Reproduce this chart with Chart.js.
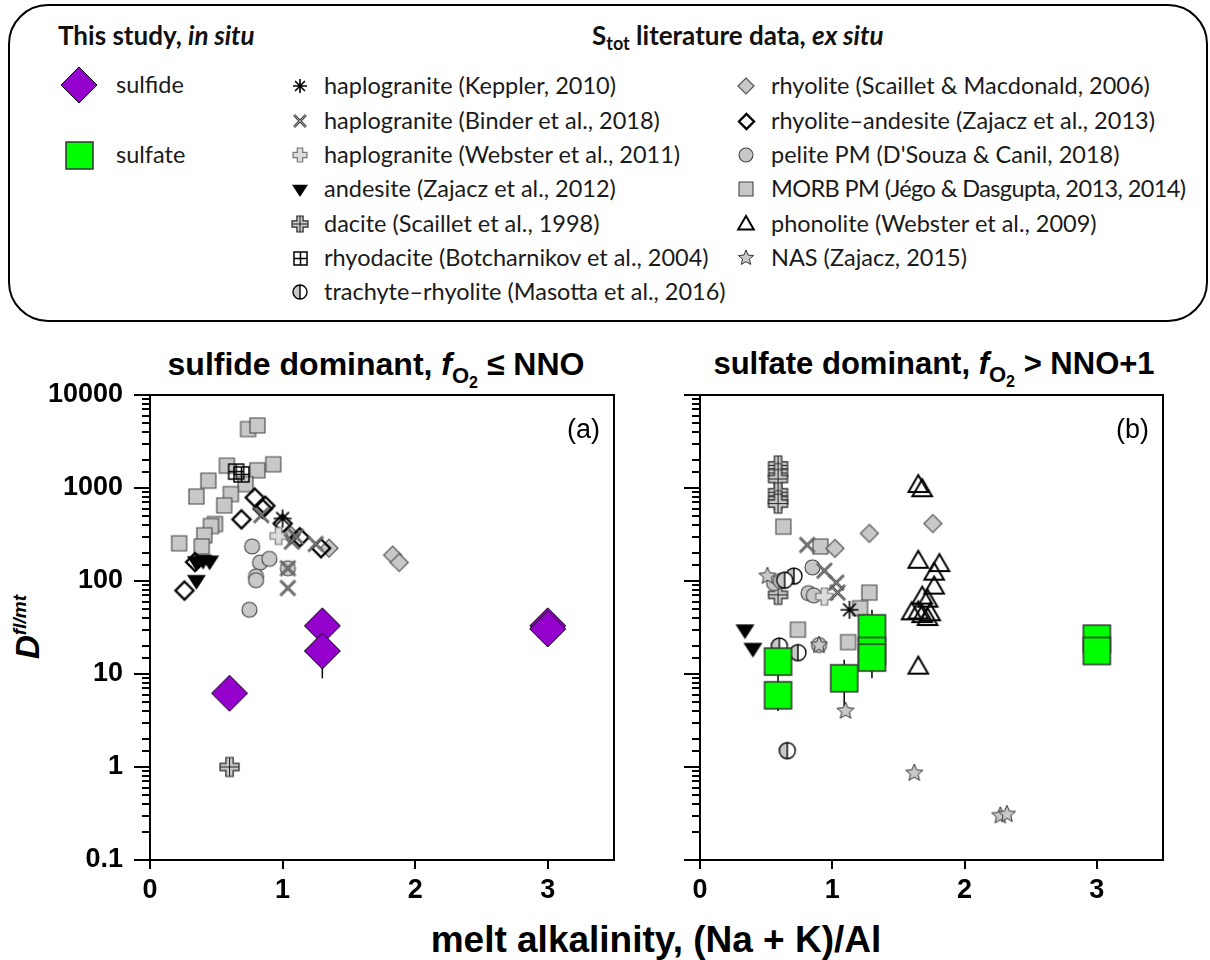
<!DOCTYPE html>
<html>
<head>
<meta charset="utf-8">
<script src="https://cdn.jsdelivr.net/npm/chart.js@4.4.1/dist/chart.umd.min.js"></script>
<style>
body{margin:0;width:1210px;height:960px;background:#fff;position:relative;overflow:hidden;font-family:"Liberation Sans",Arial,sans-serif}
#box{position:absolute;left:8px;top:4px;width:1196px;height:314px;border:2px solid #000;border-radius:40px}
.ttl{position:absolute;font-family:Lato,"Noto Sans",sans-serif;font-weight:bold;font-size:26px;white-space:nowrap;color:#111;line-height:30px}
.ttl sub{font-size:18px;vertical-align:-5px}
.it{position:absolute;font-family:Lato,"Noto Sans",sans-serif;font-size:23.5px;white-space:nowrap;line-height:28px;color:#1a1a1a}
.ic{position:absolute}
canvas.ch{position:absolute}
.ptitle{position:absolute;font-weight:bold;font-size:32px;white-space:nowrap;transform:translateX(-50%);line-height:38px}
.ptitle sub{font-size:22px;vertical-align:-8px}
.ptitle sub sub{font-size:16px;vertical-align:-5px}
#ytitle{position:absolute;left:28px;top:627px;transform:translate(-50%,-50%) rotate(-90deg);font-weight:bold;font-style:italic;font-size:33px;white-space:nowrap}
#ytitle sup{font-size:19px;vertical-align:13px}
#xtitle{position:absolute;left:656px;top:918px;transform:translateX(-50%);font-weight:bold;font-size:37px;white-space:nowrap;line-height:44px}
</style>
</head>
<body>
<div id="box"></div>
<div class="ttl" style="left:58px;top:20px">This study, <i>in situ</i></div>
<div class="ttl" style="left:592px;top:20px">S<sub>tot</sub> literature data, <i>ex situ</i></div>
<div id="legendItems"></div>

<div class="ptitle" style="left:376px;top:345px">sulfide dominant, <i>f</i><sub>O<sub>2</sub></sub> ≤ NNO</div>
<div class="ptitle" style="left:934px;top:345px;font-size:31px">sulfate dominant, <i>f</i><sub>O<sub>2</sub></sub> &gt; NNO+1</div>
<div id="ytitle">D<sup>fl/mt</sup></div>
<div id="xtitle">melt alkalinity, (Na + K)/Al</div>

<canvas id="graficaA" class="ch" width="630" height="520" style="left:0;top:380px;width:630px;height:520px"></canvas>
<canvas id="graficaB" class="ch" width="580" height="520" style="left:630px;top:380px;width:580px;height:520px"></canvas>

<script>
// ---- panel (a): sulfide dominant ----
const aSulfideX = [0.6, 1.3, 1.3, 3.0, 3.0];
const aSulfideY = [6.2, 33, 17.7, 33, 30.5];
const aSulfideLow = [null, null, 9.0, null, 28];
const aAsteriskX = [1.0];
const aAsteriskY = [470];
const aBinderX = [0.84, 1.07, 1.1, 1.25, 1.04, 1.04];
const aBinderY = [510, 265, 300, 250, 137, 84];
const aWebsterX = [0.97];
const aWebsterY = [305];
const aAndesiteX = [0.35, 0.4, 0.45, 0.35];
const aAndesiteY = [162, 168, 165, 102];
const aDaciteX = [0.6];
const aDaciteY = [1.0];
const aRhyodaciteX = [0.65, 0.69];
const aRhyodaciteY = [1500, 1400];
const aRhyoliteX = [1.35, 1.06, 1.83, 1.88];
const aRhyoliteY = [225, 312, 190, 158];
const aRhyAndX = [0.79, 0.87, 0.85, 0.69, 1.0, 1.13, 1.29, 0.26, 0.34];
const aRhyAndY = [790, 645, 600, 460, 415, 295, 225, 79, 160];
const aPeliteX = [0.77, 0.83, 0.9, 0.8, 0.8, 1.04, 0.75];
const aPeliteY = [235, 158, 173, 112, 102, 137, 49];
const aMorbX = [0.74, 0.81, 0.44, 0.35, 0.58, 0.81, 0.93, 0.72, 0.61, 0.56, 0.49, 0.46, 0.41, 0.39, 0.22];
const aMorbY = [4300, 4700, 1200, 810, 1740, 1550, 1800, 1100, 860, 650, 410, 390, 310, 235, 254];

// ---- panel (b): sulfate dominant ----
const bSulfateX = [0.59, 0.59, 1.09, 1.3, 1.3, 1.3, 3.0, 3.0];
const bSulfateY = [13.6, 5.9, 9.0, 31, 17.7, 15, 24, 17.7];
const bSulfateLow = [8.0, 4.0, 4.5, null, null, 9.0, null, null];
const bSulfateHigh = [null, null, 14.2, 49, null, null, null, null];
const bAsteriskX = [1.13];
const bAsteriskY = [49];
const bBinderX = [0.81, 0.94, 1.03, 1.04];
const bBinderY = [244, 129, 96, 75];
const bWebsterX = [0.94];
const bWebsterY = [68];
const bAndesiteX = [0.34, 0.4];
const bAndesiteY = [30, 19];
const bDaciteX = [0.59, 0.59, 0.59, 0.59, 0.59, 0.59, 0.59, 0.59];
const bDaciteY = [1750, 1450, 1250, 900, 740, 680, 71, 6.0];
const bTrachyteX = [0.71, 0.64, 0.6, 0.74, 0.66];
const bTrachyteY = [113, 102, 20, 17, 1.5];
const bRhyoliteX = [1.02, 1.28, 1.76];
const bRhyoliteY = [224, 325, 415];
const bPeliteX = [0.85, 0.82, 0.86, 0.56, 0.61, 0.9];
const bPeliteY = [140, 74, 70, 95, 100, 20.5];
const bMorbX = [0.63, 0.91, 1.28, 1.21, 0.74, 1.12];
const bMorbY = [384, 235, 75, 51, 30, 22];
const bPhonoliteX = [1.65, 1.68, 1.65, 1.81, 1.77, 1.77, 1.68, 1.72, 1.6, 1.65, 1.68, 1.74, 1.72, 1.65];
const bPhonoliteY = [1077, 970, 165, 152, 123, 87, 68, 63, 46, 47, 43, 45, 40, 12];
const bNasX = [0.51, 0.9, 1.1, 1.62, 2.27, 2.32];
const bNasY = [113, 20.4, 4.0, 0.86, 0.30, 0.31];

// axes
const xTicks = [0, 1, 2, 3];
const yMin = 0.1, yMax = 10000;

const GRIS = '#c8c8c8';
const MORADO = '#9400cc';
const VERDE = '#00ff00';

// dibuja un marcador en (x,y) de radio r
function dibujarMarca(g, tipo, x, y, r) {
    g.save();
    g.lineJoin = 'miter';
    g.beginPath();
    switch (tipo) {
        case 'sulfide':
            g.moveTo(x, y - r); g.lineTo(x + r, y); g.lineTo(x, y + r); g.lineTo(x - r, y); g.closePath();
            g.fillStyle = MORADO; g.fill(); g.strokeStyle = '#000'; g.lineWidth = 1; g.stroke();
            break;
        case 'sulfate':
            g.rect(x - r, y - r, 2 * r, 2 * r);
            g.fillStyle = VERDE; g.fill(); g.strokeStyle = '#333'; g.lineWidth = 1.5; g.stroke();
            break;
        case 'asterisk':
            for (let k = 0; k < 4; k++) {
                const a = k * Math.PI / 4;
                g.moveTo(x - r * Math.cos(a), y - r * Math.sin(a));
                g.lineTo(x + r * Math.cos(a), y + r * Math.sin(a));
            }
            g.strokeStyle = '#000'; g.lineWidth = 1.6; g.stroke();
            break;
        case 'x':
            g.moveTo(x - r, y - r); g.lineTo(x + r, y + r);
            g.moveTo(x + r, y - r); g.lineTo(x - r, y + r);
            g.strokeStyle = '#444'; g.lineWidth = 2.6; g.stroke();
            g.beginPath();
            g.moveTo(x - r, y - r); g.lineTo(x + r, y + r);
            g.moveTo(x + r, y - r); g.lineTo(x - r, y + r);
            g.strokeStyle = '#bbb'; g.lineWidth = 0.8; g.stroke();
            break;
        case 'plusLight':
        case 'dacite': {
            const w = r / 2.6;
            g.moveTo(x - w, y - r); g.lineTo(x + w, y - r); g.lineTo(x + w, y - w); g.lineTo(x + r, y - w);
            g.lineTo(x + r, y + w); g.lineTo(x + w, y + w); g.lineTo(x + w, y + r); g.lineTo(x - w, y + r);
            g.lineTo(x - w, y + w); g.lineTo(x - r, y + w); g.lineTo(x - r, y - w); g.lineTo(x - w, y - w);
            g.closePath();
            if (tipo === 'dacite') {
                g.fillStyle = GRIS; g.fill(); g.strokeStyle = '#222'; g.lineWidth = 1.2; g.stroke();
                g.beginPath();
                g.moveTo(x, y - r); g.lineTo(x, y + r); g.moveTo(x - r, y); g.lineTo(x + r, y);
                g.lineWidth = 1; g.stroke();
            } else {
                g.fillStyle = '#dcdcdc'; g.fill(); g.strokeStyle = '#777'; g.lineWidth = 1.2; g.stroke();
            }
            break;
        }
        case 'downTri': {
            const h = r * 0.9;
            g.moveTo(x - r, y - h * 0.6); g.lineTo(x + r, y - h * 0.6); g.lineTo(x, y + h * 1.1); g.closePath();
            g.fillStyle = '#000'; g.fill();
            break;
        }
        case 'rhyodacite':
            g.rect(x - r, y - r, 2 * r, 2 * r);
            g.moveTo(x, y - r); g.lineTo(x, y + r); g.moveTo(x - r, y); g.lineTo(x + r, y);
            g.strokeStyle = '#000'; g.lineWidth = 1.5; g.stroke();
            break;
        case 'half':
            g.arc(x, y, r, Math.PI / 2, Math.PI * 1.5);
            g.closePath(); g.fillStyle = GRIS; g.fill();
            g.beginPath(); g.arc(x, y, r, -Math.PI / 2, Math.PI / 2); g.closePath(); g.fillStyle = '#fff'; g.fill();
            g.beginPath(); g.arc(x, y, r, 0, Math.PI * 2);
            g.moveTo(x, y - r); g.lineTo(x, y + r);
            g.strokeStyle = '#000'; g.lineWidth = 1.4; g.stroke();
            break;
        case 'grayDiamond':
            g.moveTo(x, y - r); g.lineTo(x + r, y); g.lineTo(x, y + r); g.lineTo(x - r, y); g.closePath();
            g.fillStyle = GRIS; g.fill(); g.strokeStyle = '#555'; g.lineWidth = 1.2; g.stroke();
            break;
        case 'openDiamond':
            g.moveTo(x, y - r); g.lineTo(x + r, y); g.lineTo(x, y + r); g.lineTo(x - r, y); g.closePath();
            g.strokeStyle = '#000'; g.lineWidth = 2.4; g.stroke();
            break;
        case 'circle':
            g.arc(x, y, r, 0, Math.PI * 2);
            g.fillStyle = GRIS; g.fill(); g.strokeStyle = '#444'; g.lineWidth = 1.1; g.stroke();
            break;
        case 'square':
            g.rect(x - r, y - r, 2 * r, 2 * r);
            g.fillStyle = GRIS; g.fill(); g.strokeStyle = '#444'; g.lineWidth = 1.1; g.stroke();
            break;
        case 'openTri': {
            g.moveTo(x, y - r); g.lineTo(x + r * 0.98, y + r * 0.7); g.lineTo(x - r * 0.98, y + r * 0.7); g.closePath();
            g.strokeStyle = '#000'; g.lineWidth = 2; g.stroke();
            break;
        }
        case 'star5':
            for (let k = 0; k < 10; k++) {
                const rr = k % 2 === 0 ? r : r * 0.45;
                const a = -Math.PI / 2 + k * Math.PI / 5;
                if (k === 0) g.moveTo(x + rr * Math.cos(a), y + rr * Math.sin(a));
                else g.lineTo(x + rr * Math.cos(a), y + rr * Math.sin(a));
            }
            g.closePath();
            g.fillStyle = GRIS; g.fill(); g.strokeStyle = '#333'; g.lineWidth = 1; g.stroke();
            break;
    }
    g.restore();
}

function imagenMarca(tipo, r) {
    const n = Math.ceil(2 * r + 6);
    const c = document.createElement('canvas');
    c.width = n; c.height = n;
    dibujarMarca(c.getContext('2d'), tipo, n / 2, n / 2, r);
    return c;
}

// tamaños de marca en la gráfica
const tam = {
    sulfide: 18, sulfate: 13.5, asterisk: 9, x: 7.5, plusLight: 8.5, downTri: 9.5, dacite: 9.5,
    rhyodacite: 7.5, half: 8, grayDiamond: 9, openDiamond: 9, circle: 7.5, square: 7.5, openTri: 10, star5: 9
};

function serie(tipo, xs, ys, extra) {
    return Object.assign({
        data: xs.map((x, i) => ({ x: x, y: ys[i] })),
        pointStyle: imagenMarca(tipo, tam[tipo]),
        showLine: false
    }, extra || {});
}

function esDecada(v) {
    const l = Math.log10(v);
    return Math.abs(l - Math.round(l)) < 1e-6;
}

const marcoPlugin = {
    id: 'marco',
    beforeDatasetsDraw(chart) {
        const ctx = chart.ctx, ys = chart.scales.y;
        ctx.save();
        ctx.strokeStyle = '#000';
        ctx.lineWidth = 1.5;
        chart.data.datasets.forEach((ds, i) => {
            if (!ds.errLow && !ds.errHigh) return;
            const meta = chart.getDatasetMeta(i);
            meta.data.forEach((pt, j) => {
                [ds.errLow && ds.errLow[j], ds.errHigh && ds.errHigh[j]].forEach(v => {
                    if (v == null) return;
                    ctx.beginPath();
                    ctx.moveTo(pt.x, pt.y);
                    ctx.lineTo(pt.x, ys.getPixelForValue(v));
                    ctx.stroke();
                });
            });
        });
        ctx.restore();
    },
    afterDraw(chart, args, opts) {
        const ctx = chart.ctx, a = chart.chartArea, ys = chart.scales.y, xs = chart.scales.x;
        ctx.save();
        ctx.strokeStyle = '#000';
        ctx.lineWidth = 2;
        ctx.strokeRect(a.left, a.top, a.right - a.left, a.bottom - a.top);
        ctx.beginPath();
        ys.ticks.forEach(t => {
            const p = Math.round(ys.getPixelForValue(t.value));
            const L = esDecada(t.value) ? 16 : 8;
            ctx.moveTo(a.left - L, p);
            ctx.lineTo(a.left, p);
        });
        xTicks.forEach(v => {
            const p = Math.round(xs.getPixelForValue(v));
            ctx.moveTo(p, a.bottom);
            ctx.lineTo(p, a.bottom + 9);
        });
        ctx.stroke();
        ctx.fillStyle = '#000';
        ctx.font = '27px "Liberation Sans", Arial, sans-serif';
        ctx.textAlign = 'right';
        ctx.textBaseline = 'middle';
        ctx.fillText(opts.tag, a.right - 14, a.top + 36);
        ctx.restore();
    }
};

function opciones(tag, yWidth, padRight, showY) {
    const fuente = { family: '"Liberation Sans", Arial, sans-serif', size: 27, weight: 'bold' };
    return {
        responsive: false,
        animation: false,
        devicePixelRatio: 1,
        events: [],
        layout: { padding: { top: 15, right: padRight, left: 0, bottom: 0 } },
        plugins: { legend: { display: false }, tooltip: { enabled: false }, marco: { tag: tag } },
        scales: {
            x: {
                type: 'linear', min: 0, max: 3.5,
                grid: { display: false, drawTicks: false }, border: { display: false },
                ticks: {
                    stepSize: 1, autoSkip: false, includeBounds: false, padding: 14, color: '#000', font: fuente,
                    callback: v => (xTicks.includes(v) ? String(v) : '')
                },
                afterFit: s => { s.height = 40; s.paddingLeft = 0; s.paddingRight = 0; }
            },
            y: {
                type: 'logarithmic', min: yMin, max: yMax,
                grid: { display: false, drawTicks: false }, border: { display: false },
                ticks: {
                    autoSkip: false, padding: 27, color: '#000', font: fuente,
                    callback: v => (showY && esDecada(v) ? String(Number(v)) : '')
                },
                afterFit: s => { s.width = yWidth; s.paddingTop = 0; s.paddingBottom = 0; }
            }
        }
    };
}

const datosA = {
    datasets: [
        serie('sulfide', aSulfideX, aSulfideY, { errLow: aSulfideLow }),
        serie('dacite', aDaciteX, aDaciteY),
        serie('asterisk', aAsteriskX, aAsteriskY),
        serie('x', aBinderX, aBinderY),
        serie('plusLight', aWebsterX, aWebsterY),
        serie('openDiamond', aRhyAndX, aRhyAndY),
        serie('grayDiamond', aRhyoliteX, aRhyoliteY),
        serie('downTri', aAndesiteX, aAndesiteY),
        serie('rhyodacite', aRhyodaciteX, aRhyodaciteY),
        serie('circle', aPeliteX, aPeliteY),
        serie('square', aMorbX, aMorbY)
    ]
};

const datosB = {
    datasets: [
        serie('sulfate', bSulfateX, bSulfateY, { errLow: bSulfateLow, errHigh: bSulfateHigh }),
        serie('dacite', bDaciteX.slice(7), bDaciteY.slice(7)),
        serie('star5', bNasX, bNasY),
        serie('asterisk', bAsteriskX, bAsteriskY),
        serie('x', bBinderX, bBinderY),
        serie('plusLight', bWebsterX, bWebsterY),
        serie('half', bTrachyteX, bTrachyteY),
        serie('openTri', bPhonoliteX, bPhonoliteY),
        serie('grayDiamond', bRhyoliteX, bRhyoliteY),
        serie('downTri', bAndesiteX, bAndesiteY),
        serie('circle', bPeliteX, bPeliteY),
        serie('square', bMorbX, bMorbY),
        serie('dacite', bDaciteX.slice(0, 7), bDaciteY.slice(0, 7))
    ]
};

let graficaA = new Chart(document.getElementById('graficaA').getContext('2d'), {
    type: 'scatter', data: datosA, options: opciones('(a)', 150, 16, true), plugins: [marcoPlugin]
});
let graficaB = new Chart(document.getElementById('graficaB').getContext('2d'), {
    type: 'scatter', data: datosB, options: opciones('(b)', 70, 47, false), plugins: [marcoPlugin]
});

// ---- leyenda ----
const leyenda = [
    ['sulfide', 18, 79, 85, 116, 'sulfide'],
    ['sulfate', 13.5, 79, 155, 116, 'sulfate'],
    ['asterisk', 7, 300, 86, 324, 'haplogranite (Keppler, 2010)'],
    ['x', 6, 300, 121, 324, 'haplogranite (Binder et al., 2018)'],
    ['plusLight', 7, 300, 155, 324, 'haplogranite (Webster et al., 2011)'],
    ['downTri', 8, 300, 189, 324, 'andesite (Zajacz et al., 2012)'],
    ['dacite', 8, 300, 224, 324, 'dacite (Scaillet et al., 1998)'],
    ['rhyodacite', 6.5, 300, 258, 324, 'rhyodacite (Botcharnikov et al., 2004)'],
    ['half', 7, 300, 292, 324, 'trachyte\u2013rhyolite (Masotta et al., 2016)'],
    ['grayDiamond', 8, 746, 86, 771, 'rhyolite (Scaillet & Macdonald, 2006)'],
    ['openDiamond', 7.5, 746, 121, 771, 'rhyolite\u2013andesite (Zajacz et al., 2013)'],
    ['circle', 7, 746, 155, 771, 'pelite PM (D\'Souza & Canil, 2018)'],
    ['square', 7, 746, 189, 771, 'MORB PM (J\u00e9go & Dasgupta, 2013, 2014)'],
    ['openTri', 8, 746, 224, 771, 'phonolite (Webster et al., 2009)'],
    ['star5', 8, 746, 258, 771, 'NAS (Zajacz, 2015)']
];

const cont = document.getElementById('legendItems');
for (const [tipo, r, ix, iy, tx, texto] of leyenda) {
    const c = imagenMarca(tipo, r);
    c.className = 'ic';
    c.style.left = (ix - c.width / 2) + 'px';
    c.style.top = (iy - c.height / 2) + 'px';
    cont.appendChild(c);
    const d = document.createElement('div');
    d.className = 'it';
    d.style.left = tx + 'px';
    d.style.top = (iy - 15) + 'px';
    if (texto.startsWith('MORB')) d.style.letterSpacing = '-0.6px';
    d.textContent = texto;
    cont.appendChild(d);
}
</script>
</body>
</html>
